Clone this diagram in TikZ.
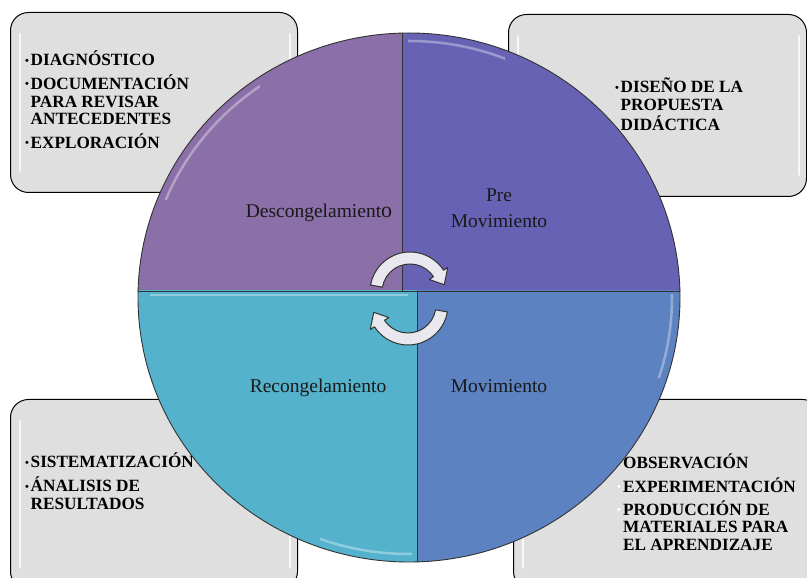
\documentclass[tikz,border=0pt]{standalone}
\usepackage{fontspec}
\setmainfont{Liberation Serif}

\definecolor{descong}{RGB}{139,111,168}
\definecolor{premov}{RGB}{104,98,180}
\definecolor{recong}{RGB}{84,178,204}
\definecolor{movim}{RGB}{92,130,194}
\definecolor{boxgray}{RGB}{223,223,223}
\definecolor{turngray}{RGB}{232,232,238}

\newcommand\dotb{\makebox[5.5pt][l]{\raisebox{0.2ex}{\fontsize{11}{11}\selectfont\textbullet}}}
\newcommand\wdotb{\makebox[6pt][l]{\color{white}\raisebox{0.2ex}{\fontsize{11}{11}\selectfont\textbullet}}}

\begin{document}
\begin{tikzpicture}[x=1pt,y=1pt,
    infobox/.style={draw=black,line width=1pt,fill=boxgray,rounded corners=18pt,
      anchor=south west,inner sep=0pt},
    gloss/.style={white,line width=2pt,opacity=.8,line cap=round},
    quarter/.style={draw=black!80,line width=.9pt},
    bevel/.style={white,line width=2.5pt,opacity=.35},
    quadlabel/.style={anchor=base,inner sep=0pt,text=black!90,
      font=\fontsize{19.5}{26}\selectfont},
    bulletlist/.style={anchor=base west,inner sep=0pt,
      font=\fontsize{17.2}{17.8}\selectfont\bfseries},
    turn arrow/.pic={\filldraw[fill=turngray,draw=black!80,line width=1pt,line join=round]
      (170:40) arc[start angle=170,end angle=33,radius=40] -- (33:45) -- (12:35)
      -- (33:23) -- (33:28) arc[start angle=33,end angle=170,radius=28] -- cycle;}]
  \useasboundingbox (0,0) rectangle (807,578);

  % boxes behind the circle
  \node[infobox,minimum width=287pt,minimum height=180pt] (diagbox) at (10,385) {};
  \node[infobox,minimum width=298pt,minimum height=182pt] (disenobox) at (508,381) {};
  \node[infobox,minimum width=287pt,minimum height=190pt] (sistbox) at (10,-12) {};
  \node[infobox,minimum width=307pt,minimum height=190pt] (obsbox) at (513,-12) {};
  \foreach \b in {diagbox,disenobox,sistbox,obsbox} {
    \draw[gloss] ([xshift=10pt,yshift=-22pt]\b.north west) -- ([xshift=10pt,yshift=22pt]\b.south west);
    \draw[gloss] ([xshift=-8pt,yshift=-22pt]\b.north east) -- ([xshift=-8pt,yshift=22pt]\b.south east);
  }

  \node[bulletlist] (diaglist) at (25,512.3) {\begin{tabular}[t]{@{}l@{}l@{}}
    \dotb & DIAGNÓSTICO\\[3.5pt]
    \dotb & DOCUMENTACIÓN\\
          & PARA REVISAR\\
          & ANTECEDENTES\\[3.5pt]
    \dotb & EXPLORACIÓN
  \end{tabular}};
  \node[bulletlist] (disenolist) at (615,485) {\begin{tabular}[t]{@{}l@{}l@{}}
    \dotb & DISEÑO DE LA\\
          & PROPUESTA\\
          & DIDÁCTICA
  \end{tabular}};
  \node[bulletlist] (sistlist) at (25,110) {\begin{tabular}[t]{@{}l@{}l@{}}
    \dotb & SISTEMATIZACIÓN\\[3.5pt]
    \dotb & ÁNALISIS DE\\
          & RESULTADOS
  \end{tabular}};
  \node[bulletlist] (obslist) at (617,109) {\begin{tabular}[t]{@{}l@{}l@{}}
    \wdotb & OBSERVACIÓN\\[3pt]
    \wdotb & EXPERIMENTACIÓN\\[3pt]
    \wdotb & PRODUCCIÓN DE\\
           & MATERIALES PARA\\
           & EL APRENDIZAJE
  \end{tabular}};

  % the four quarters
  \begin{scope}
    \clip (100,287) rectangle (402,600);
    \filldraw[quarter,fill=descong] (409,280.5) ellipse[x radius=271,y radius=264.5];
    \clip (130,378) rectangle (260,520);
    \draw[bevel] (409,280.5) ellipse[x radius=263,y radius=256.5];
  \end{scope}
  \begin{scope}
    \clip (402,287) rectangle (720,600);
    \filldraw[quarter,fill=premov] (409,280.5) ellipse[x radius=271,y radius=264.5];
    \clip (408,500) rectangle (505,560);
    \draw[bevel] (409,280.5) ellipse[x radius=263,y radius=256.5];
  \end{scope}
  \begin{scope}
    \clip (100,-20) rectangle (417,287);
    \filldraw[quarter,fill=recong] (409,280.5) ellipse[x radius=271,y radius=264.5];
    \draw[bevel] (150,283) -- (408,283);
    \clip (320,0) rectangle (412,40);
    \draw[bevel] (409,280.5) ellipse[x radius=263,y radius=256.5];
  \end{scope}
  \begin{scope}
    \clip (417,-20) rectangle (720,287);
    \filldraw[quarter,fill=movim] (409,280.5) ellipse[x radius=271,y radius=264.5];
    \clip (640,200) rectangle (690,283);
    \draw[bevel] (409,280.5) ellipse[x radius=263,y radius=256.5];
  \end{scope}
  \begin{scope}
    \clip (409,280.5) ellipse[x radius=271,y radius=264.5];
    \draw[quarter] (100,287) -- (720,287);
    \draw[quarter] (402,287) -- (402,600);
    \draw[quarter] (417,287) -- (417,-20);
  \end{scope}

  \node[quadlabel] (descong) at (319,360) {Descongelamient{\fontsize{22}{26}\selectfont o}};
  \node[quadlabel] (premov) at (499,376) {\begin{tabular}[t]{@{}c@{}}Pre\\Movimiento\end{tabular}};
  \node[quadlabel] (recong) at (318,185) {Recongelamiento};
  \node[quadlabel] (movim) at (499,185) {Movimiento};

  \pic at (410,286) {turn arrow};
  \pic[rotate=180] at (408,273) {turn arrow};
\end{tikzpicture}
\end{document}
